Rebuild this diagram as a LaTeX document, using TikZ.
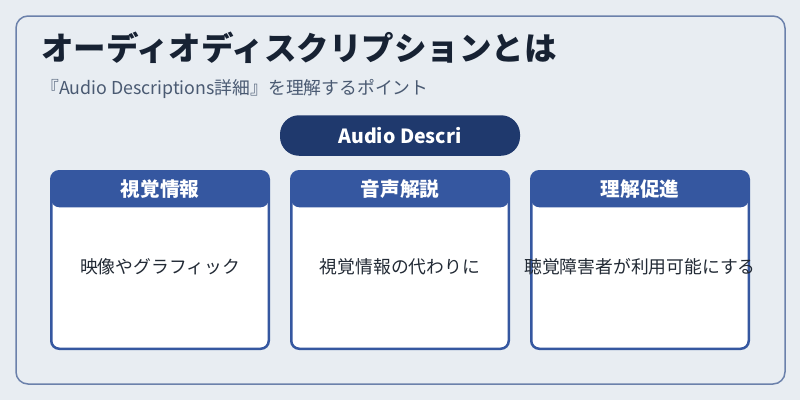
\documentclass[tikz,border=0pt]{standalone}
\usepackage{fontspec}
\setmainfont{Noto Sans CJK JP}
\usepackage{tikz}
\usepackage{xcolor}
\usetikzlibrary{positioning, calc}

\definecolor{pagebg}{HTML}{E8EDF2}
\definecolor{framecol}{HTML}{6B81AB}
\definecolor{pillblue}{HTML}{1F396D}
\definecolor{cardblue}{HTML}{3557A0}
\definecolor{titlecol}{HTML}{172233}
\definecolor{subcol}{HTML}{4A5A72}
\definecolor{bodycol}{HTML}{222A35}

\begin{document}
\begin{tikzpicture}[
    x=1pt, y=-1pt,
    framebox/.style={
        draw=framecol,
        line width=1.5pt,
        rounded corners=12pt
    },
    heading/.style={
        anchor=west,
        inner sep=0pt,
        text=titlecol,
        font=\fontsize{32.5}{38}\selectfont\bfseries
    },
    subheading/.style={
        anchor=west,
        inner sep=0pt,
        text=subcol,
        font=\fontsize{17.8}{21}\selectfont
    },
    pill/.style={
        rectangle,
        rounded corners=19pt,
        fill=pillblue,
        text=white,
        minimum width=240pt,
        minimum height=40.5pt,
        font=\fontsize{19.5}{22}\selectfont\bfseries
    },
    card/.style={
        rectangle,
        rounded corners=8pt,
        draw=cardblue,
        line width=2.5pt,
        fill=white,
        minimum width=217.5pt,
        minimum height=177.5pt,
        path picture={
            \fill[cardblue] (path picture bounding box.north west)
                rectangle ([yshift=-36pt]path picture bounding box.north east);
        }
    },
    cardhead/.style={
        text=white,
        inner sep=0pt,
        font=\fontsize{19.6}{22}\selectfont\bfseries
    },
    cardtext/.style={
        text=bodycol,
        inner sep=0pt,
        font=\fontsize{17.8}{20}\selectfont
    }
]

% page and outer frame
\fill[pagebg] (0,0) rectangle (800,400);
\useasboundingbox (0,0) rectangle (800,400);
\draw[framebox] (16,16) rectangle (785,384);

\node[heading] (title) at (41,47.5) {オーディオディスクリプションとは};
\node[subheading] (subtitle) at (41,89) {『Audio Descriptions詳細』を理解するポイント};

\node[pill] (pill) at (400,135.5) {Audio Descri};

% three cards
\node[card] (visual) at (160,260) {};
\node[card, right=20pt of visual] (audio) {};
\node[card, right=20pt of audio] (support) {};

\node[cardhead] (visualhead) at ([yshift=-19pt]visual.north) {視覚情報};
\node[cardhead] (audiohead) at ([yshift=-19pt]audio.north) {音声解説};
\node[cardhead] (supporthead) at ([yshift=-19pt]support.north) {理解促進};

\node[cardtext] (visualtext) at ([yshift=-7pt]visual.center) {映像やグラフィック};
\node[cardtext] (audiotext) at ([yshift=-7pt]audio.center) {視覚情報の代わりに};
\node[cardtext] (supporttext) at ([yshift=-7pt]support.center) {聴覚障害者が利用可能にする};

\end{tikzpicture}
\end{document}
